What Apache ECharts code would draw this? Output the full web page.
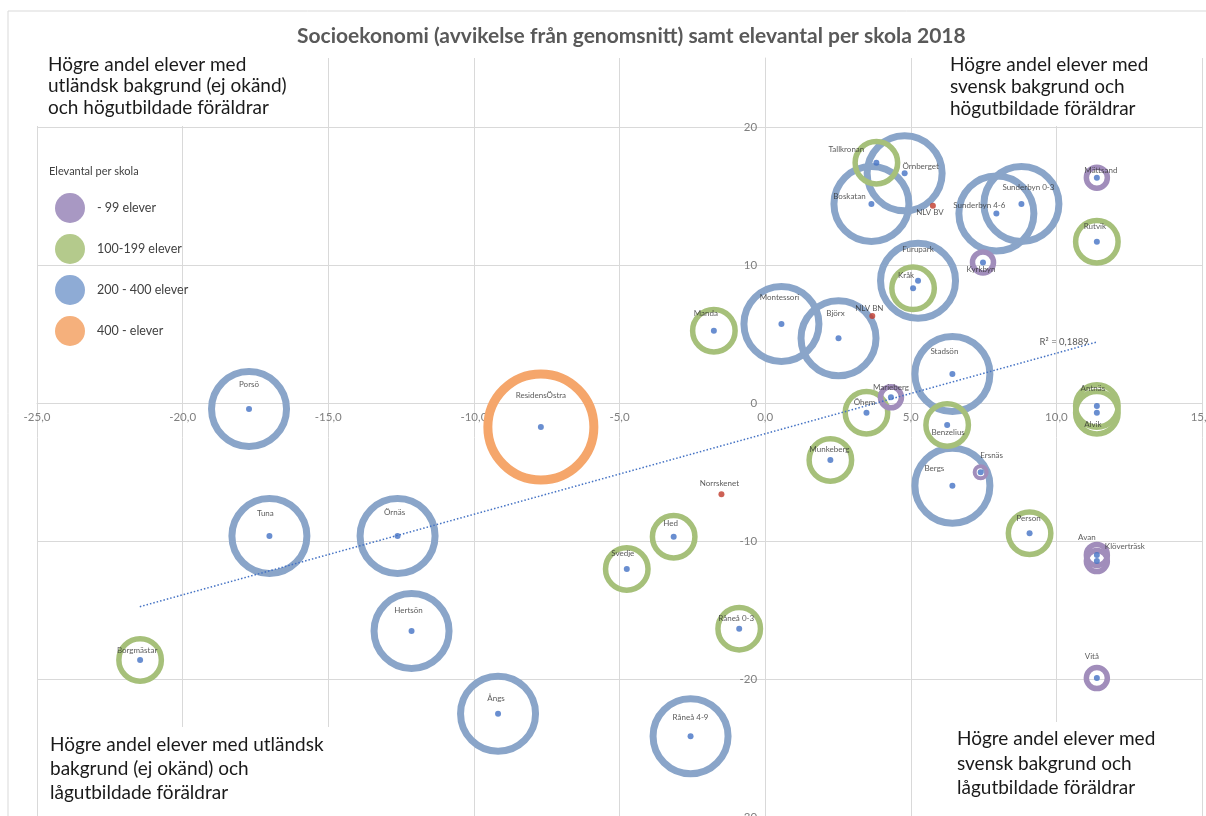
<!DOCTYPE html>
<html><head><meta charset="utf-8">
<script src="https://cdn.jsdelivr.net/npm/echarts@6/dist/echarts.min.js"></script>
<style>html,body{margin:0;padding:0;background:#fff}#c{width:1206px;height:816px}</style>
</head><body><div id="c"></div>
<script>
// ---------- DATA ----------
const chartTitle = 'Socioekonomi (avvikelse från genomsnitt) samt elevantal per skola 2018';
const legendNames = ['- 99 elever', '100-199 elever', '200 - 400 elever', '400 - elever'];
// [skola, x (avvikelse), y (avvikelse)]
const schools99 = [
  ['Mättsand', 11.39, 16.33], ['Kyrkbyn', 7.48, 10.19], ['Marieberg', 4.32, 0.41],
  ['Ersnäs', 7.40, -5.02], ['Avan', 11.39, -11.01], ['Klöverträsk', 11.39, -11.45],
  ['Vitå', 11.39, -19.93]
];
const schools100 = [
  ['Tallkronan', 3.82, 17.41], ['Rutvik', 11.39, 11.69], ['Kråk', 5.08, 8.31],
  ['Manda', -1.76, 5.24], ['Öhem', 3.48, -0.70], ['Benzelius', 6.25, -1.59],
  ['Munkeberg', 2.24, -4.13], ['Antnäs', 11.39, -0.22], ['Alvik', 11.39, -0.70],
  ['Person', 9.08, -9.44], ['Hed', -3.14, -9.69], ['Svedje', -4.75, -12.03],
  ['Råneå 0-3', -0.89, -16.35], ['Borgmästar', -21.46, -18.62]
];
const schools200 = [
  ['Örnberget', 4.79, 16.64], ['Boskatan', 3.65, 14.42], ['Sunderbyn 4-6', 7.94, 13.74],
  ['Sunderbyn 0-3', 8.80, 14.42], ['Furupark', 5.25, 8.86], ['Montessori', 0.56, 5.72],
  ['Björx', 2.52, 4.69], ['Stadsön', 6.43, 2.10], ['Bergs', 6.43, -5.99],
  ['Porsö', -17.72, -0.43], ['Tuna', -17.02, -9.64], ['Örnäs', -12.62, -9.64],
  ['Hertsön', -12.14, -16.52], ['Ångs', -9.17, -22.51], ['Råneå 4-9', -2.56, -24.15]
];
const schools400 = [
  ['ResidensÖstra', -7.70, -1.74]
];
const schoolsOther = [
  ['NLV BV', 5.76, 14.30], ['NLV BN', 3.68, 6.30], ['Norrskenet', -1.50, -6.62]
];
const trendLine = [[-21.47, -14.76], [11.39, 4.42]];
const trendLabel = 'R² = 0,1889';
const cornerTexts = [
  'Högre andel elever med\nutländsk bakgrund (ej okänd)\noch högutbildade föräldrar',
  'Högre andel elever med\nsvensk bakgrund och\nhögutbildade föräldrar',
  'Högre andel elever med utländsk\nbakgrund (ej okänd) och\nlågutbildade föräldrar',
  'Högre andel elever med\nsvensk bakgrund och\nlågutbildade föräldrar'
];
const legendTitle = 'Elevantal per skola';

// ---------- STYLE (label offsets in px, ring overrides) ----------
const labelOffsets = {
  'Tallkronan': [-30, -13], 'Örnberget': [16, -7], 'Boskatan': [-22, -8], 'NLV BV': [-3, 7],
  'Sunderbyn 4-6': [-17, -8], 'Sunderbyn 0-3': [7, -17], 'Mättsand': [4, -7], 'Rutvik': [-2, -15],
  'Kyrkbyn': [-2, 7], 'Furupark': [0, -31], 'Kråk': [-7, -13], 'NLV BN': [-3, -8],
  'Manda': [-8, -17], 'Montessori': [-2, -27], 'Björx': [-3, -25], 'Stadsön': [-8, -23],
  'Marieberg': [0, -10], 'Öhem': [-2, -10], 'Benzelius': [1, 7], 'Munkeberg': [-1, -11],
  'Ersnäs': [11, -17], 'Bergs': [-18, -17], 'Norrskenet': [-2, -11], 'Antnäs': [-4, -18],
  'Alvik': [-4, 12], 'Person': [-1, -15], 'Avan': [-10, -18], 'Klöverträsk': [28, -15],
  'Hed': [-3, -13], 'Svedje': [-4, -16], 'Råneå 0-3': [-3, -10], 'Råneå 4-9': [0, -19],
  'Tuna': [-4, -23], 'Örnäs': [-3, -24], 'Hertsön': [-3, -21], 'Borgmästar': [-3, -10],
  'Ångs': [-2, -15], 'Porsö': [0, -25], 'ResidensÖstra': [0, -32], 'Vitå': [-5, -22]
};
const ringOverride = { 'Ersnäs': { size: 12, width: 4 } };

const ringStyles = [
  { color: '#a18dbb', fill: '#a898c3', size: 21, width: 5.5, z: 4 },
  { color: '#a6c07a', fill: '#b4ca8c', size: 42.5, width: 5.5, z: 3 },
  { color: '#8aa5c9', fill: '#8eabd5', size: 75, width: 7, z: 2 },
  { color: '#f5a66b', fill: '#f5b07c', size: 106, width: 9, z: 1 }
];
const groups = [schools99, schools100, schools200, schools400];
const FONT = 'Lato, "Open Sans", sans-serif';

function ringSeries(i) {
  const st = ringStyles[i];
  return {
    name: legendNames[i], type: 'scatter', z: st.z, silent: true,
    symbol: 'circle',
    itemStyle: { color: 'rgba(0,0,0,0)', borderColor: st.color, borderWidth: st.width, opacity: 1 },
    data: groups[i].map(p => {
      const o = ringOverride[p[0]];
      return {
        name: p[0], value: [p[1], p[2]],
        symbolSize: o ? o.size : st.size,
        itemStyle: o ? { borderWidth: o.width } : undefined
      };
    })
  };
}
function dotData(list) {
  return list.map(p => ({
    name: p[0], value: [p[1], p[2]],
    label: { offset: labelOffsets[p[0]] || [0, -12] }
  }));
}
const dotLabel = {
  show: true, position: 'inside', formatter: '{b}', fontSize: 8, color: '#303030',
  fontFamily: FONT, align: 'center', verticalAlign: 'middle'
};

const series = [0, 1, 2, 3].map(ringSeries);
series.push({
  name: 'Trend', type: 'line', z: 6, silent: true, symbol: 'none',
  lineStyle: { color: '#4472c4', width: 1.5, type: [1.5, 2] },
  data: trendLine.map((p, i) => i === trendLine.length - 1 ? {
    value: p, symbol: 'circle', symbolSize: 0.1,
    label: { show: true, formatter: trendLabel, position: 'left', distance: 8,
      fontSize: 9.5, color: '#595959', fontFamily: FONT }
  } : { value: p })
});
series.push({
  name: 'Skolor', type: 'scatter', z: 10, silent: true, symbolSize: 6,
  itemStyle: { color: '#4472c4' }, label: dotLabel,
  data: dotData([].concat(schools99, schools100, schools200, schools400))
});
series.push({
  name: 'Övriga', type: 'scatter', z: 10, silent: true, symbolSize: 6,
  itemStyle: { color: '#c0392b' }, label: dotLabel,
  data: dotData(schoolsOther)
});

const gridColor = '#d9d9d9';
function boxText(x, y, w, h, text, lh, padTop) {
  return {
    type: 'group', z: 50, children: [
      { type: 'rect', shape: { x: x, y: y, width: w, height: h }, style: { fill: '#ffffff' }, z: 50 },
      { type: 'text', x: x + 12, y: y + padTop, z: 51,
        style: { text: text, fontSize: 19, lineHeight: lh, fontFamily: FONT, fill: '#1a1a1a' } }
    ]
  };
}

// grid geometry: x from -25..15 over 37..1202, y from 25..-30 over 58..817
const GRID = { left: 37, top: 58, width: 1165, height: 759 };
const X_MIN = -25, X_MAX = 15, Y_MIN = -30, Y_MAX = 25;
// offsets so each axis sits on the other's zero (onZero equivalent)
const xAxisOffset = -(GRID.height * (0 - Y_MIN) / (Y_MAX - Y_MIN));
const yAxisOffset = -(GRID.width * (0 - X_MIN) / (X_MAX - X_MIN));

const option = {
  animation: false,
  backgroundColor: '#ffffff',
  title: {
    text: chartTitle, left: 292, top: 21,
    textStyle: { fontSize: 21, fontWeight: 'bold', color: '#595959', fontFamily: FONT }
  },
  legend: {
    orient: 'vertical', left: 50, top: 188, itemWidth: 30, itemHeight: 30, itemGap: 11,
    icon: 'circle',
    textStyle: { fontSize: 12.5, color: '#404040', fontFamily: FONT, padding: [0, 0, 0, 7] },
    data: legendNames.map((n, i) => ({ name: n, itemStyle: { color: ringStyles[i].fill, borderWidth: 0 } }))
  },
  grid: { left: GRID.left, top: GRID.top, width: GRID.width, height: GRID.height,
    containLabel: false, outerBoundsMode: 'none' },
  xAxis: {
    type: 'value', min: X_MIN, max: X_MAX, interval: 5, position: 'bottom', offset: xAxisOffset,
    axisLine: { onZero: false, lineStyle: { color: gridColor } },
    axisTick: { show: true, length: 4, lineStyle: { color: gridColor } },
    axisLabel: { color: '#808080', fontSize: 11.5, fontFamily: FONT, margin: 8,
      formatter: v => v.toFixed(1).replace('.', ',') },
    splitLine: { show: true, lineStyle: { color: gridColor } }
  },
  yAxis: {
    type: 'value', min: Y_MIN, max: Y_MAX, interval: 10, position: 'left', offset: yAxisOffset,
    axisLine: { show: true, onZero: false, lineStyle: { color: gridColor } },
    axisTick: { show: true, length: 4, lineStyle: { color: gridColor } },
    axisLabel: { color: '#808080', fontSize: 11.5, fontFamily: FONT, margin: 8, showMaxLabel: false,
      formatter: v => (v === 25 ? '' : String(v)) },
    splitLine: { show: true, showMaxLine: false, lineStyle: { color: gridColor } }
  },
  graphic: [
    { type: 'line', z: 40, shape: { x1: 8, y1: 11, x2: 1206, y2: 11 }, style: { stroke: gridColor, lineWidth: 1 } },
    { type: 'line', z: 40, shape: { x1: 8, y1: 11, x2: 8, y2: 816 }, style: { stroke: gridColor, lineWidth: 1 } },
    boxText(36, 47, 270, 79, cornerTexts[0], 21.5, 7),
    boxText(938, 47, 250, 79, cornerTexts[1], 22, 7),
    boxText(38, 727, 320, 89, cornerTexts[2], 24, 6),
    boxText(945, 722, 245, 94, cornerTexts[3], 24.5, 5),
    { type: 'text', x: 49, y: 166, z: 40,
      style: { text: legendTitle, fontSize: 11, fontFamily: FONT, fill: '#404040' } }
  ],
  series: series
};
const chart = echarts.init(document.getElementById('c'), null, { renderer: 'canvas' });
chart.setOption(option);
</script>
</body></html>
